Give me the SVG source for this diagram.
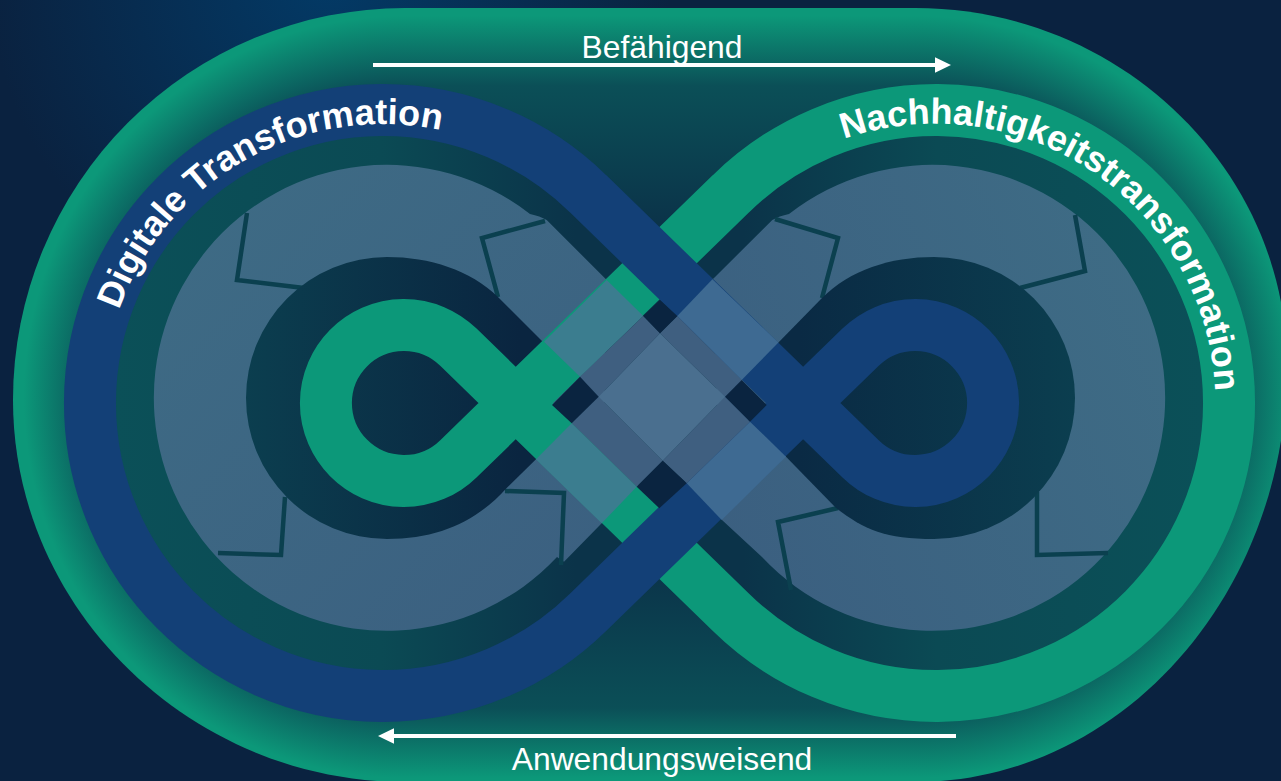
<svg xmlns="http://www.w3.org/2000/svg" xmlns:xlink="http://www.w3.org/1999/xlink" width="1281" height="781" viewBox="0 0 1281 781">
<style>
.lbl{font-family:"Liberation Sans",Arial,sans-serif;fill:#fff}
.band{font-family:"Liberation Sans",Arial,sans-serif;font-weight:700;fill:#fff;font-size:36px}
.tooth{fill:none;stroke:#0b404f;stroke-width:4.5}
.arrow{stroke:#fff;stroke-width:4;fill:none}
.mid{fill:#3f5f80}.nv{fill:#0a2440}.tg{fill:#3b7d8f}.tb{fill:#3e6a92}
</style>
<defs>
<radialGradient id="bg" gradientUnits="userSpaceOnUse" cx="330" cy="-20" r="340"><stop offset="0" stop-color="#033a66"/><stop offset="1" stop-color="#0a2240"/></radialGradient>
<radialGradient id="sl" gradientUnits="userSpaceOnUse" cx="405" cy="397" r="389"><stop offset="0" stop-color="#0b4f57"/><stop offset=".8" stop-color="#0b4f57"/><stop offset=".98" stop-color="#0c9879"/></radialGradient>
<radialGradient id="sr" gradientUnits="userSpaceOnUse" cx="915" cy="397" r="389"><stop offset="0" stop-color="#0b4f57"/><stop offset=".8" stop-color="#0b4f57"/><stop offset=".98" stop-color="#0c9879"/></radialGradient>
<linearGradient id="sm" gradientUnits="userSpaceOnUse" x1="0" y1="8" x2="0" y2="786"><stop offset=".01" stop-color="#0c9879"/><stop offset=".1" stop-color="#0b4f57"/><stop offset=".28" stop-color="#0b3349"/><stop offset=".72" stop-color="#0b3349"/><stop offset=".9" stop-color="#0b4f57"/><stop offset=".99" stop-color="#0c9879"/></linearGradient>
<linearGradient id="fl" gradientUnits="userSpaceOnUse" x1="115" y1="0" x2="600" y2="0"><stop offset="0" stop-color="#0b5058"/><stop offset=".55" stop-color="#0b4a54"/><stop offset=".95" stop-color="#0b3349"/></linearGradient>
<linearGradient id="fr" gradientUnits="userSpaceOnUse" x1="1204" y1="0" x2="719" y2="0"><stop offset="0" stop-color="#0b5058"/><stop offset=".55" stop-color="#0b4a54"/><stop offset=".95" stop-color="#0b3349"/></linearGradient>
<linearGradient id="lt" gradientUnits="userSpaceOnUse" x1="154" y1="165" x2="620" y2="630"><stop offset="0" stop-color="#3e6c85"/><stop offset="1" stop-color="#3b5f80"/></linearGradient>
<linearGradient id="rt" gradientUnits="userSpaceOnUse" x1="1165" y1="300" x2="700" y2="500"><stop offset="0" stop-color="#3e6c85"/><stop offset="1" stop-color="#3b5f80"/></linearGradient>
<linearGradient id="hl" gradientUnits="userSpaceOnUse" x1="246" y1="0" x2="520" y2="0"><stop offset="0" stop-color="#0b3e4f"/><stop offset="1" stop-color="#0a2540"/></linearGradient>
<linearGradient id="hr" gradientUnits="userSpaceOnUse" x1="1075" y1="0" x2="800" y2="0"><stop offset="0" stop-color="#0b3e4f"/><stop offset="1" stop-color="#0a2a44"/></linearGradient>
<clipPath id="st"><path d="M405,8 H915 C1120,8 1287,170 1287,366 C1287,595 1120,782 915,782 H405 C192,782 13,610 13,400 A392,392 0 0 1 405,8 Z"/></clipPath>
<path id="dpath" d="M119,310 A280,280 0 0 1 520,160"/>
<path id="npath" d="M844,139 A280,280 0 0 1 1215,420"/>
</defs>
<rect width="1281" height="781" fill="#0a2240"/>
<rect width="800" height="340" fill="url(#bg)"/>
<g id="stadium" clip-path="url(#st)">
<rect x="405" y="0" width="510" height="800" fill="url(#sm)"/>
<rect x="0" y="0" width="405" height="800" fill="url(#sl)"/>
<rect x="915" y="0" width="380" height="800" fill="url(#sr)"/>
</g>
<g id="digitale-fill"><path fill="url(#fl)" d="M588,193.7 L860.6,458.8 A78,78 0 1 0 860.6,347.2 L588,612.3 A293,293 0 1 1 588,193.7 Z"/></g>
<g id="nachhaltig-fill"><path fill="url(#fr)" d="M731,193.7 L458.4,458.8 A78,78 0 1 1 458.4,347.2 L731,612.3 A293,293 0 1 0 731,193.7 Z"/></g>
<g id="gear-left">
<path fill="url(#lt)" d="M530,214 A233,233 0 1 0 557,557 L564,561.7 L601.7,523.3 L606.7,280 L546.7,220 Q540,216 530,214 Z"/>
<polyline class="tooth" points="247,213 237,280 304,288"/>
<polyline class="tooth" points="545,221 482,238 498,297"/>
<polyline class="tooth" points="505,491 564,493 561,565"/>
<polyline class="tooth" points="285,497 281,555 218,553"/>
<path fill="url(#hl)" d="M543,342 L498,297 C470,270 430,257 387,257 A141,141 0 0 0 387,539 C440,539 478,520 506.7,488 L536,459.3 Z"/>
</g>
<g id="gear-right">
<path fill="url(#rt)" d="M789,214 A233,233 0 1 1 762,557 L722,520 L712,280 L772.3,220 Q779,216 789,214 Z"/>
<polyline class="tooth" points="775,219 838,238 822,298"/>
<polyline class="tooth" points="1075,215 1085,271 1020,288"/>
<polyline class="tooth" points="838,508 778,522 791,590"/>
<polyline class="tooth" points="1037,492 1037,555 1108,553"/>
<path fill="url(#hr)" d="M777.7,343.3 L822,298 C850,270 890,257 934,257 A141,141 0 0 1 934,539 C885,539 865,530 836,508 L786,456.7 Z"/>
</g>
<g id="loop-nachhaltig"><path fill="none" stroke="#0c9879" stroke-width="52" d="M731,193.7 L458.4,458.8 A78,78 0 1 1 458.4,347.2 L731,612.3 A293,293 0 1 0 731,193.7 Z"/></g>
<g id="loop-digitale"><path fill="none" stroke="#134077" stroke-width="52" d="M588,193.7 L860.6,458.8 A78,78 0 1 0 860.6,347.2 L588,612.3 A293,293 0 1 1 588,193.7 Z"/></g>
<g id="overlap">
<polygon class="tg" points="606.7,280 643.3,316 580,376.7 544,341.7"/>
<polygon class="tb" points="712.4,279.3 778.4,342.6 741.7,380 677.3,316"/>
<polygon class="tg" points="571.7,423.3 636.7,486.7 601.7,523.3 536,459.3"/>
<polygon class="tb" points="686.7,483.3 750,421.7 786,456.7 721.7,520"/>
<polygon class="mid" points="643.3,316 660,333.3 598.7,396.7 580,376.7"/>
<polygon class="mid" points="677.3,316 741.7,380 725,396.7 660,333.3"/>
<polygon class="mid" points="571.7,423.3 598.7,396.7 662.7,460.7 636.7,486.7"/>
<polygon class="mid" points="662.7,460.7 725,396.7 750,421.7 686.7,483.3"/>
<polygon fill="#4a6f8f" points="660,333.3 725,396.7 662.7,460.7 598.7,396.7"/>
<polygon class="nv" points="580,376.7 598.7,396.7 571.7,423.3 552,405"/>
<polygon class="nv" points="660,300 677.3,316 660,333.3 643.3,316"/>
<polygon class="nv" points="741.7,380 766.7,405 750,421.7 725,396.7"/>
<polygon class="nv" points="662.7,460.7 686.7,483.3 659.3,508.3 636.7,486.7"/>
</g>
<g id="label-digitale"><text class="band"><textPath xlink:href="#dpath" href="#dpath">Digitale Transformation</textPath></text></g>
<g id="label-nachhaltig"><text class="band"><textPath xlink:href="#npath" href="#npath">Nachhaltigkeitstransformation</textPath></text></g>
<g id="connectors">
<line class="arrow" x1="373" y1="65" x2="938" y2="65"/><polygon fill="#fff" points="951,65 935,57.3 935,72.7"/>
<line class="arrow" x1="956" y1="736" x2="392" y2="736"/><polygon fill="#fff" points="378,736 394,728.3 394,743.7"/>
</g>
<text class="lbl" x="662" y="58" font-size="31.8" text-anchor="middle">Befähigend</text>
<text class="lbl" x="662" y="770" font-size="31.8" text-anchor="middle">Anwendungsweisend</text>
</svg>
